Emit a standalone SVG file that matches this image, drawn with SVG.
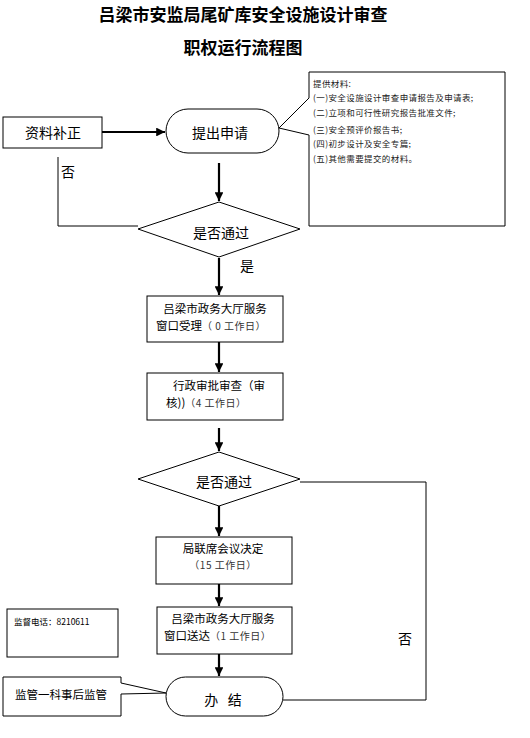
<svg xmlns="http://www.w3.org/2000/svg" width="530" height="738" viewBox="0 0 530 738">
<defs>
<marker id="ah" viewBox="0 0 10 10" refX="10" refY="5" markerWidth="4" markerHeight="4" orient="auto" markerUnits="strokeWidth"><path d="M0,0 L10,5 L0,10 z" fill="#000"/></marker>
<style>
text{font-family:"Noto Sans CJK SC","Liberation Sans",sans-serif;fill:#000}
.t{font-size:17px;font-weight:bold;text-anchor:middle}
.n{font-size:14px;text-anchor:middle}
.b{font-size:11.5px;text-anchor:middle}
.g{font-size:10px;fill:#333;letter-spacing:0.5px}
.s{font-size:8.5px;letter-spacing:0.4px;fill:#222}
.shape{fill:#fff;stroke:#000;stroke-width:1}
.arr{stroke:#000;stroke-width:2.2;fill:none;marker-end:url(#ah)}
.ln{stroke:#000;stroke-width:1;fill:none}
</style>
</defs>
<rect width="530" height="738" fill="#fff"/>
<g id="title">
<text class="t" x="243" y="21">吕梁市安监局尾矿库安全设施设计审查</text>
<text class="t" x="243" y="54">职权运行流程图</text>
</g>
<g id="connectors">
<line class="arr" x1="102" y1="132" x2="165" y2="132"/>
<line class="arr" x1="219" y1="163" x2="219" y2="201"/>
<polyline class="ln" points="58,157 58,226 138,226"/>
<line class="arr" x1="219" y1="258" x2="219" y2="295"/>
<line class="arr" x1="219" y1="342" x2="219" y2="372"/>
<line class="arr" x1="219" y1="428" x2="219" y2="451"/>
<line class="arr" x1="219" y1="506" x2="219" y2="536"/>
<line class="arr" x1="219" y1="584" x2="219" y2="606"/>
<line class="arr" x1="219" y1="654" x2="219" y2="676"/>
<polyline class="ln" points="300,482 426,482 426,700 283,700"/>
</g>
<g id="labels">
<text class="n" x="68" y="177">否</text>
<text class="n" x="247" y="271">是</text>
<text class="n" x="405" y="644">否</text>
</g>
<g id="n-buzheng">
<rect class="shape" x="3" y="117" width="99" height="31"/>
<text class="n" x="53" y="138">资料补正</text>
</g>
<g id="n-tichu">
<rect class="shape" x="166" y="109" width="113" height="44" rx="22" ry="22"/>
<text class="n" x="220" y="138">提出申请</text>
</g>
<g id="n-materials">
<path class="shape" d="M309,72 L505,72 L505,226 L309,226 L309,135 L279,128 L309,98 Z"/>
<text class="s" x="313" y="87">提供材料:</text>
<text class="s" x="313" y="100.5">(一)安全设施设计审查申请报告及申请表;</text>
<text class="s" x="313" y="116">(二)立项和可行性研究报告批准文件;</text>
<text class="s" x="313" y="133">(三)安全预评价报告书;</text>
<text class="s" x="313" y="147">(四)初步设计及安全专篇;</text>
<text class="s" x="313" y="162">(五)其他需要提交的材料。</text>
</g>
<g id="n-decision1">
<polygon class="shape" points="219,202 300,229 219,257 138,229"/>
<text class="n" x="221" y="238">是否通过</text>
</g>
<g id="n-shouli">
<rect class="shape" x="147" y="296" width="136" height="46"/>
<text class="b" x="215" y="313">吕梁市政务大厅服务</text>
<text x="156" y="330"><tspan font-size="11.5">窗口受理</tspan><tspan class="g">（ 0 工作日）</tspan></text>
</g>
<g id="n-shencha">
<rect class="shape" x="147" y="373" width="136" height="47"/>
<text x="173" y="390" font-size="11.5">行政审批审查（审</text>
<text x="166" y="407"><tspan font-size="11.5">核))</tspan><tspan class="g">（4 工作日）</tspan></text>
</g>
<g id="n-decision2">
<polygon class="shape" points="219,452 300,479 219,506 138,479"/>
<text class="n" x="224" y="487">是否通过</text>
</g>
<g id="n-juelian">
<rect class="shape" x="156" y="537" width="136" height="47"/>
<text class="b" x="223" y="553">局联席会议决定</text>
<text class="g" x="223" y="569" text-anchor="middle">（15 工作日）</text>
</g>
<g id="n-songda">
<rect class="shape" x="157" y="607" width="135" height="47"/>
<text class="b" x="223" y="623">吕梁市政务大厅服务</text>
<text x="164" y="640"><tspan font-size="11.5">窗口送达</tspan><tspan class="g">（1 工作日）</tspan></text>
</g>
<g id="n-banjie">
<rect class="shape" x="166" y="677" width="117" height="39" rx="19.5" ry="19.5"/>
<text class="n" x="223" y="705" xml:space="preserve">办   结</text>
</g>
<g id="n-phone">
<rect class="shape" x="7" y="609" width="111" height="48"/>
<text x="14" y="625" font-size="8.5" fill="#222">监督电话：8210611</text>
</g>
<g id="n-jianguan">
<path class="shape" d="M3,677 L121,677 L121,683 L166,693 L121,694 L121,716 L3,716 Z"/>
<text class="b" x="61" y="699">监管一科事后监管</text>
</g>
</svg>
